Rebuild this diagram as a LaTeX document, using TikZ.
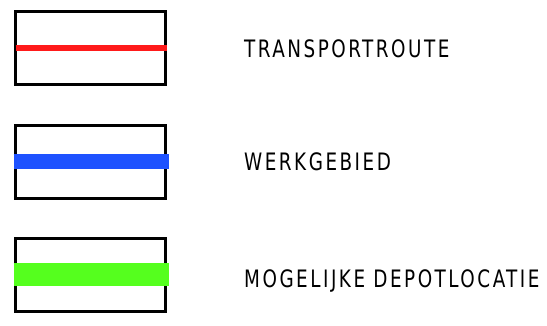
\documentclass[tikz,border=0pt]{standalone}
\usepackage{fontspec}
\setmainfont{DejaVu Sans Condensed}[FakeStretch=0.85, LetterSpace=10.5]
\definecolor{routered}{RGB}{255,26,26}
\definecolor{areablue}{RGB}{30,82,255}
\definecolor{depotgreen}{RGB}{85,255,30}
\begin{document}
\begin{tikzpicture}[
  x=1pt, y=-1pt,
  legbox/.style={draw=black, line width=3pt, fill=white, inner sep=0pt, minimum width=150pt, minimum height=73pt},
  legtext/.style={anchor=base west, inner sep=0pt, font=\fontsize{24}{24}\selectfont},
  route/.style={draw=routered, line width=6.5pt},
  area/.style={draw=areablue, line width=15pt},
  depot/.style={draw=depotgreen, line width=23pt}
]
  \useasboundingbox (0,0) rectangle (547,326);

  % Kaders
  \node[legbox] (box1) at (90.5, 48) {};
  \node[legbox] (box2) at (90.5, 162.5) {};
  \node[legbox] (box3) at (90.5, 275) {};

  % Lijnen
  \draw[route] ([xshift=1.5pt]box1.west) -- ([xshift=-0.5pt]box1.east);
  \draw[area]  ([xshift=-0.5pt]box2.west |- 0,161.5) -- ([xshift=1.5pt]box2.east |- 0,161.5);
  \draw[depot] ([xshift=-0.5pt]box3.west) -- ([xshift=1.5pt]box3.east);

  % Teksten
  \node[legtext] (t1) at (244, 57.5) {TRANSPORTROUTE};
  \node[legtext] (t2) at (244, 171) {WERKGEBIED};
  \node[legtext] (t3) at (244, 287.5) {MOGELIJKE DEPOTLOCATIE};
\end{tikzpicture}
\end{document}
